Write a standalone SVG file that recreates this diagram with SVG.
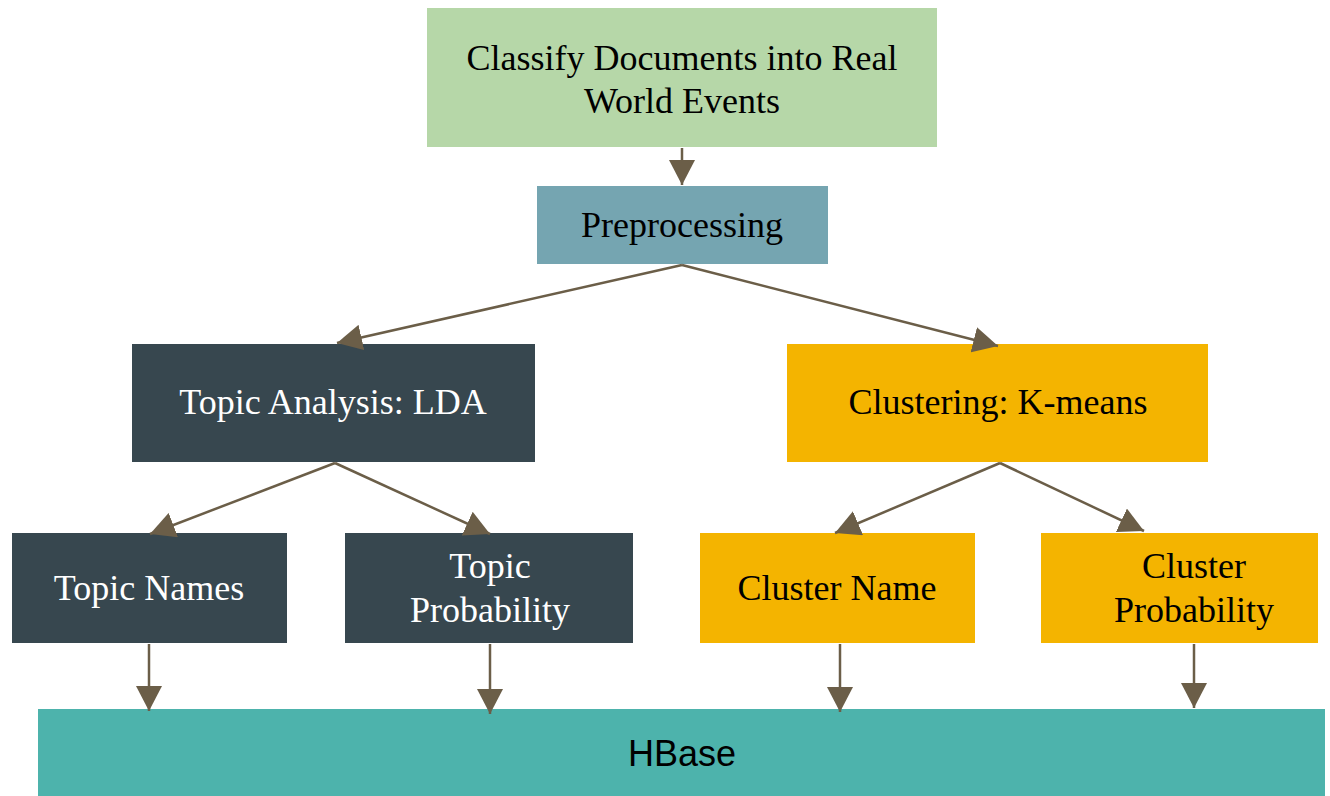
<svg xmlns="http://www.w3.org/2000/svg" width="1330" height="796" viewBox="0 0 1330 796">
<style>
.t{font-family:"Liberation Serif","Times New Roman",serif;font-size:36px;text-anchor:middle}
.w{fill:#ffffff}
.b{fill:#000000}
.c{stroke:#6B5E48;stroke-width:2.5;fill:none;marker-end:url(#ah)}
</style>
<defs>
<marker id="ah" markerUnits="userSpaceOnUse" markerWidth="26" markerHeight="26" refX="25" refY="13" orient="auto" viewBox="0 0 26 26">
<path d="M0,0 L25,13 L0,26 z" fill="#6B5E48"/>
</marker>
</defs>
<rect width="1330" height="796" fill="#ffffff"/>
<g id="n-classify">
<rect x="427" y="8" width="510" height="139" fill="#B6D7A8"/>
<text class="t b" x="682" y="70">Classify Documents into Real</text>
<text class="t b" x="682" y="113">World Events</text>
</g>
<g id="n-preprocessing">
<rect x="537" y="186" width="291" height="78" fill="#75A5B1"/>
<text class="t b" x="682" y="237">Preprocessing</text>
</g>
<g id="n-lda">
<rect x="132" y="344" width="403" height="118" fill="#37474F"/>
<text class="t w" x="333" y="414">Topic Analysis: LDA</text>
</g>
<g id="n-kmeans">
<rect x="787" y="344" width="421" height="118" fill="#F4B400"/>
<text class="t b" x="998" y="414">Clustering: K-means</text>
</g>
<g id="n-topicnames">
<rect x="12" y="533" width="275" height="110" fill="#37474F"/>
<text class="t w" x="149" y="600">Topic Names</text>
</g>
<g id="n-topicprob">
<rect x="345" y="533" width="288" height="110" fill="#37474F"/>
<text class="t w" x="490" y="578">Topic</text>
<text class="t w" x="490" y="622">Probability</text>
</g>
<g id="n-clustername">
<rect x="700" y="533" width="275" height="110" fill="#F4B400"/>
<text class="t b" x="837" y="600">Cluster Name</text>
</g>
<g id="n-clusterprob">
<rect x="1041" y="533" width="277" height="110" fill="#F4B400"/>
<text class="t b" x="1194" y="578">Cluster</text>
<text class="t b" x="1194" y="622">Probability</text>
</g>
<g id="n-hbase">
<rect x="38" y="709" width="1287" height="87" fill="#4DB3AC"/>
<text x="682" y="766" font-family="'Liberation Sans',Arial,sans-serif" font-size="36" text-anchor="middle" fill="#000000">HBase</text>
</g>
<g id="connectors">
<line class="c" x1="682" y1="148" x2="682" y2="185"/>
<line class="c" x1="682" y1="265" x2="337" y2="343"/>
<line class="c" x1="682" y1="265" x2="998" y2="346"/>
<line class="c" x1="335" y1="463" x2="150" y2="534"/>
<line class="c" x1="335" y1="463" x2="490" y2="534"/>
<line class="c" x1="1000" y1="463" x2="835" y2="533"/>
<line class="c" x1="1000" y1="463" x2="1144" y2="531"/>
<line class="c" x1="149" y1="644" x2="149" y2="711"/>
<line class="c" x1="490" y1="644" x2="490" y2="714"/>
<line class="c" x1="840" y1="644" x2="840" y2="712"/>
<line class="c" x1="1194" y1="644" x2="1194" y2="708"/>
</g>
</svg>
